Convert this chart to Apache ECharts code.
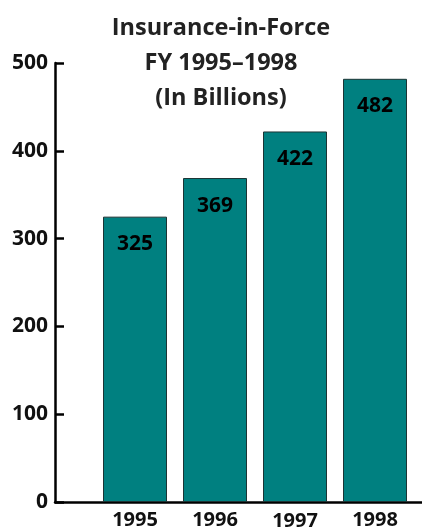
<!DOCTYPE html>
<html>
<head>
<meta charset="utf-8">
<script src="https://cdn.jsdelivr.net/npm/echarts@6/dist/echarts.min.js"></script>
<style>
  html, body { margin: 0; padding: 0; background: #fff; }
  #chart { width: 422px; height: 529px; }
</style>
</head>
<body>
<div id="chart"></div>
<script>
// Insurance-in-force by fiscal year, in billions
const categories = ['1995', '1996', '1997', '1998'];
const values = [325, 369, 422, 482];
const yTicks = [0, 100, 200, 300, 400, 500];

const FONT = '"Open Sans", "Noto Sans", sans-serif';
const chart = echarts.init(document.getElementById('chart'));

chart.setOption({
  animation: false,
  title: {
    text: 'Insurance-in-Force\nFY 1995\u20131998\n(In Billions)',
    left: 216,
    top: 6,
    textAlign: 'center',
    textStyle: {
      fontFamily: FONT,
      fontWeight: 'bold',
      fontSize: 23.5,
      lineHeight: 35,
      color: '#222'
    }
  },
  grid: { left: 55, top: 63, width: 368, height: 439, outerBoundsMode: 'none' },
  xAxis: {
    type: 'value',
    min: -1,
    max: 3.6,
    interval: 1,
    splitLine: { show: false },
    axisTick: { show: false },
    axisLine: { show: true, onZero: false, lineStyle: { color: '#000', width: 2.5 } },
    axisLabel: {
      margin: 6,
      fontFamily: FONT,
      fontWeight: 'bold',
      fontSize: 20,
      lineHeight: 24,
      color: '#111',
      showMaxLabel: false,
      formatter: v => {
        if (!(v >= 0 && v < categories.length && Number.isInteger(v))) return '';
        // the third year label sits a little lower than its neighbours
        return v === 2 ? '{low|' + categories[v] + '}' : categories[v];
      },
      rich: {
        low: { fontFamily: FONT, fontWeight: 'bold', fontSize: 20, lineHeight: 24, color: '#111', padding: [3, 0, 0, 0] }
      }
    }
  },
  yAxis: {
    type: 'value',
    min: yTicks[0],
    max: yTicks[yTicks.length - 1],
    interval: 100,
    splitLine: { show: false },
    axisLine: { show: true, onZero: false, lineStyle: { color: '#000', width: 2.5 } },
    axisTick: { show: true, inside: true, length: 9, lineStyle: { color: '#000', width: 2.5 } },
    axisLabel: {
      margin: 7,
      fontFamily: FONT,
      fontWeight: 'bold',
      fontSize: 21,
      color: '#111'
    }
  },
  series: [{
    type: 'bar',
    barWidth: 64,
    data: values.map((v, i) => [i, v]),
    itemStyle: { color: '#008080', borderColor: '#1c3434', borderWidth: 1 },
    label: {
      show: true,
      position: 'insideTop',
      distance: 17,
      fontFamily: FONT,
      fontWeight: 'bold',
      fontSize: 21,
      color: '#000',
      formatter: p => String(p.value[1])
    }
  }]
});
</script>
</body>
</html>
